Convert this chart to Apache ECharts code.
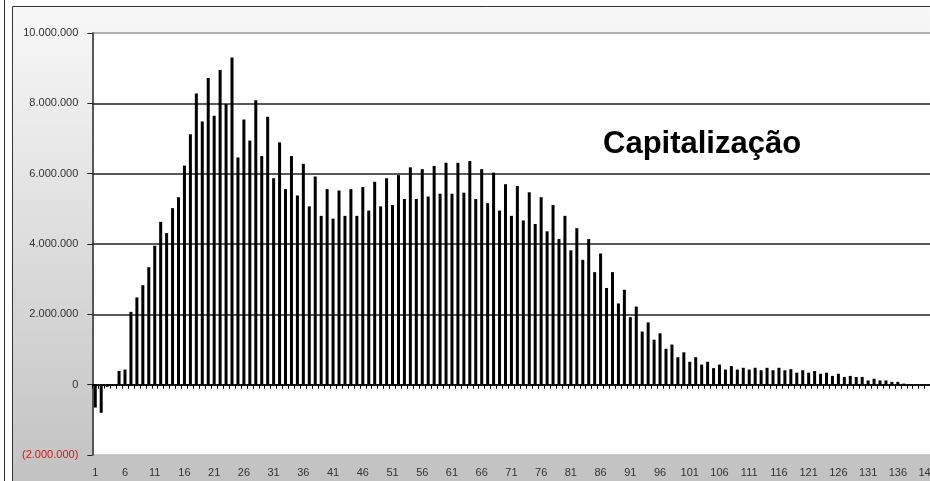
<!DOCTYPE html>
<html>
<head>
<meta charset="utf-8">
<script src="https://cdn.jsdelivr.net/npm/echarts@6/dist/echarts.min.js"></script>
<style>
html,body{margin:0;padding:0;overflow:hidden;background:#fff;width:930px;height:481px;}
#c{width:960px;height:481px;}
</style>
</head>
<body>
<div id="c"></div>
<script>
// Categories 1..145
const categories = [];
for (let i = 1; i <= 145; i++) categories.push(String(i));

// Values
const values = [
  -650000, -800000, -60000, -30000, 390000, 430000, 2070000, 2480000, 2830000, 3340000,
  3950000, 4630000, 4310000, 5020000, 5330000, 6230000, 7120000, 8280000, 7480000, 8720000,
  7650000, 8950000, 7980000, 9300000, 6460000, 7540000, 6940000, 8090000, 6500000, 7620000,
  5870000, 6890000, 5560000, 6500000, 5380000, 6280000, 5070000, 5920000, 4800000, 5560000,
  4720000, 5520000, 4800000, 5560000, 4800000, 5620000, 4950000, 5770000, 5070000, 5870000,
  5110000, 5960000, 5280000, 6180000, 5280000, 6130000, 5350000, 6220000, 5430000, 6310000,
  5430000, 6310000, 5460000, 6360000, 5280000, 6130000, 5160000, 6030000, 4950000, 5700000,
  4800000, 5650000, 4670000, 5470000, 4570000, 5330000, 4360000, 5110000, 4140000, 4800000,
  3820000, 4450000, 3550000, 4140000, 3200000, 3730000, 2750000, 3200000, 2310000, 2700000,
  1920000, 2220000, 1510000, 1770000, 1280000, 1460000, 1020000, 1140000, 780000, 920000,
  650000, 780000, 570000, 650000, 470000, 570000, 430000, 530000, 430000, 480000,
  430000, 480000, 410000, 480000, 410000, 480000, 410000, 440000, 340000, 410000,
  340000, 390000, 310000, 340000, 250000, 310000, 220000, 250000, 220000, 220000,
  120000, 170000, 120000, 120000, 80000, 80000, 30000, 20000, 10000, 10000,
  0, 0, 0, 0, 0
];

// Axis settings
const yMin = -2000000, yMax = 10000000, yStep = 2000000;
const titleText = 'Capitalização';

function fmt(v) {
  const s = Math.abs(v).toString().replace(/\B(?=(\d{3})+(?!\d))/g, '.');
  return v < 0 ? '{neg|(' + s + ')}' : s;
}

const FONT = '"Liberation Sans", Arial, sans-serif';
const chart = echarts.init(document.getElementById('c'), null, {renderer: 'canvas'});

const gridLeft = 92.3, gridTop = 33, gridBottom = 26;
const gridRight = 960 - (gridLeft + 145 * 5.945);

chart.setOption({
  animation: false,
  backgroundColor: '#fff',
  textStyle: {fontFamily: FONT},
  title: {
    text: titleText,
    left: 598, top: 124,
    textStyle: {fontFamily: FONT, fontWeight: 'bold', fontSize: 31, color: '#000'}
  },
  graphic: [
    {type: 'line', z: -20, silent: true, shape: {x1: 4.5, y1: 0, x2: 4.5, y2: 481}, style: {stroke: '#333', lineWidth: 1}},
    {type: 'rect', z: -20, silent: true, shape: {x: 12.5, y: 6.5, width: 1000, height: 1000},
      style: {stroke: '#333', lineWidth: 1,
        fill: {type: 'linear', x: 0, y: 7, x2: 0, y2: 481, global: true,
          colorStops: [{offset: 0, color: '#f8f8f8'}, {offset: 1, color: '#c2c2c2'}]}}},
    {type: 'rect', z: -19, silent: true, shape: {x: gridLeft, y: gridTop, width: 900, height: 481 - gridTop - gridBottom},
      style: {fill: '#fff'}}
  ],
  grid: {left: gridLeft, right: gridRight, top: gridTop, bottom: gridBottom, containLabel: false},
  xAxis: [
    {
      type: 'category', data: categories, position: 'bottom',
      axisLine: {onZero: true, lineStyle: {color: '#000', width: 1.5}},
      axisTick: {show: true, interval: 0, length: 4, alignWithLabel: false, lineStyle: {color: '#000'}},
      axisLabel: {show: false},
      splitLine: {show: false}
    },
    {
      type: 'category', data: categories, position: 'bottom',
      axisLine: {show: false, onZero: false},
      axisTick: {show: false},
      axisLabel: {show: true, interval: 4, margin: 12, fontSize: 11, color: '#333', fontFamily: FONT},
      splitLine: {show: false}
    }
  ],
  yAxis: {
    type: 'value', min: yMin, max: yMax, interval: yStep,
    axisLine: {show: true, lineStyle: {color: '#222', width: 1.5}},
    axisTick: {show: true, length: 5, lineStyle: {color: '#222'}},
    axisLabel: {
      formatter: fmt, margin: 14, fontSize: 11, color: '#333', fontFamily: FONT,
      rich: {neg: {color: '#e01010', fontSize: 11, fontFamily: FONT}}
    },
    splitLine: {show: true, lineStyle: {color: ['#bbb', '#000', '#222', '#222', '#222', '#222', '#999'], width: 1.5}}
  },
  series: [{
    type: 'bar', xAxisIndex: 0, data: values, barWidth: 3,
    itemStyle: {color: '#000'}
  }]
});
</script>
</body>
</html>
